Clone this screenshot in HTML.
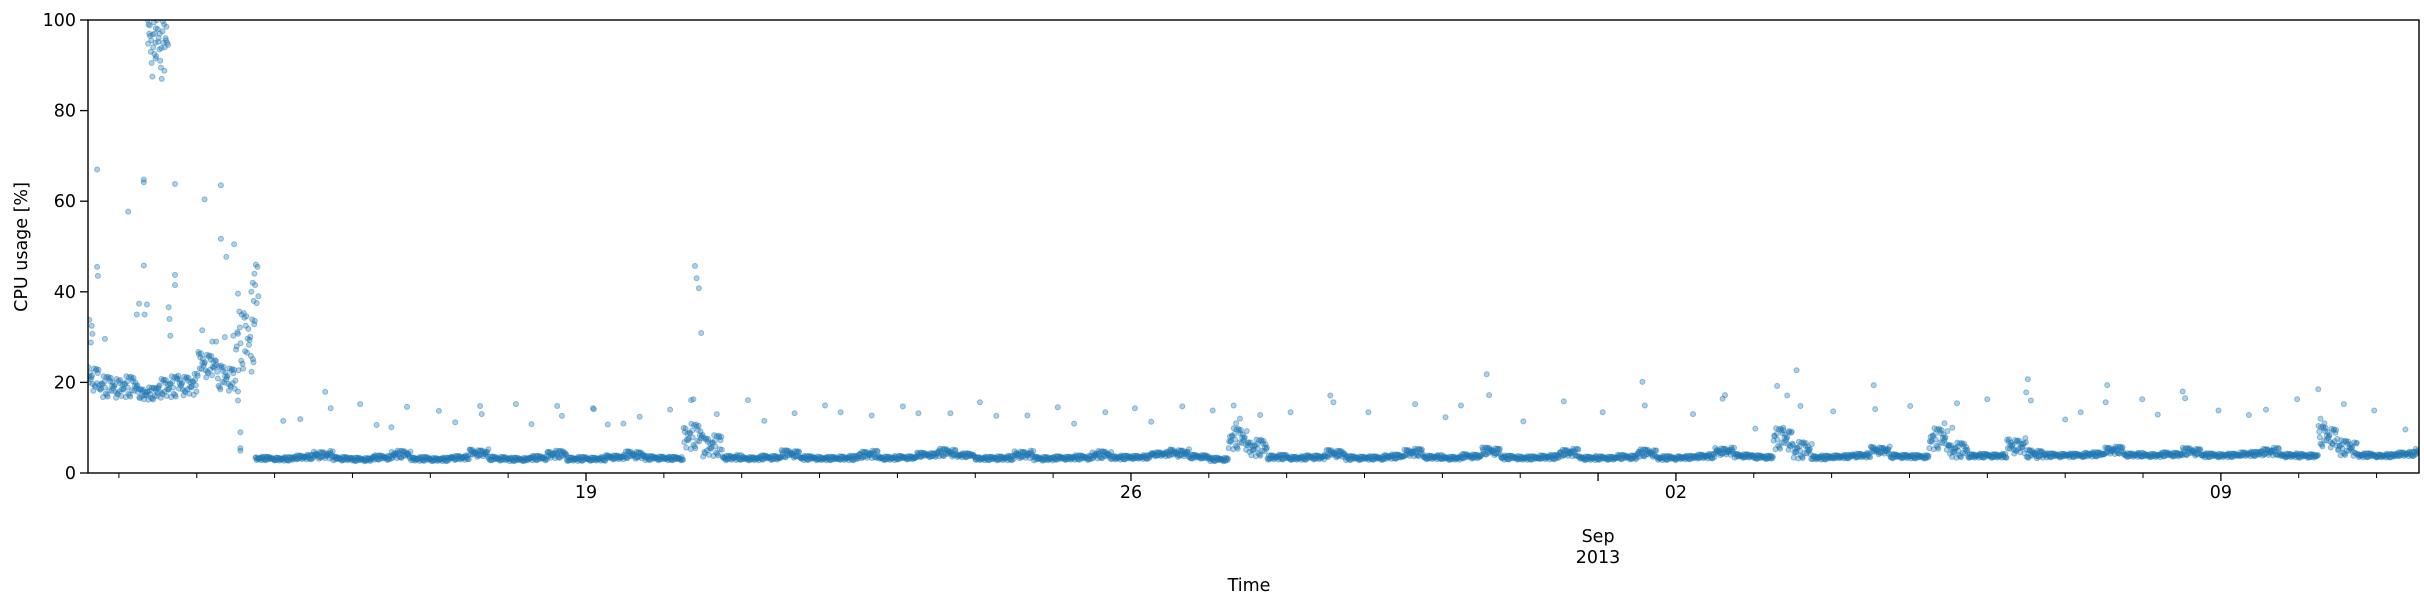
<!DOCTYPE html>
<html><head><meta charset="utf-8"><style>
html,body{margin:0;padding:0;background:#fff;}
svg{display:block;font-family:"DejaVu Sans","Liberation Sans",sans-serif;}
</style></head><body>
<svg id="chart" width="2424" height="606" viewBox="0 0 2424 606" xmlns="http://www.w3.org/2000/svg">
<defs><clipPath id="plotclip"><rect x="88" y="20" width="2331" height="453"/></clipPath></defs>
<rect x="0" y="0" width="2424" height="606" fill="#fff"/>
<g id="points" clip-path="url(#plotclip)"></g>
<g id="axes"></g>
<text x="22" y="247" font-size="17.5" text-anchor="middle" dominant-baseline="middle" transform="rotate(-90 22 247)">CPU usage [%]</text>
<text x="1249" y="591" font-size="17.5" text-anchor="middle">Time</text>
</svg>
<script>
// ---- data ----
const bandStart = 0.5;      // days from Aug 12 00:00
const bandStep = 0.25;      // days per sample
const bandLevel = [21,19,19,17.5,19,19.5,24,21,29,3.2,
3.1,3.5,4.0,3.2, 3.0,3.4,4.1,3.1, 3.0,3.4,4.4,3.2, 3.0,3.3,4.1,3.1,
3.1,3.5,4.0,3.3, 3.2,8.0,6.0,3.4, 3.2,3.4,4.2,3.3, 3.2,3.3,4.1,3.3,
3.4,4.0,4.5,3.9, 3.2,3.3,4.1,3.2, 3.3,3.4,4.0,3.4, 3.5,4.2,4.4,3.6,
3.0,7.5,5.5,3.5, 3.3,3.5,4.3,3.3, 3.3,3.6,4.5,3.5, 3.3,3.7,4.8,3.4,
3.3,3.5,4.5,3.3, 3.3,3.5,4.4,3.3, 3.4,3.7,4.8,3.8, 3.5,7.5,5.0,3.4,
3.6,3.9,5.0,3.7, 3.6,7.5,5.0,3.8, 3.8,6.0,4.2,3.9, 3.9,4.1,5.0,4.0,
3.9,4.1,4.7,3.9, 3.9,4.2,4.7,3.9, 3.8,8.0,5.5,3.9, 3.8,4.2,4.6];
const bandSpread = [3,2.5,2.5,1.5,2.5,2.5,3,3,7,0.45,
0.45,0.55,0.9,0.5, 0.45,0.55,0.9,0.5, 0.45,0.55,0.9,0.5, 0.45,0.55,0.9,0.5,
0.45,0.55,0.9,0.5, 0.45,3,2.5,0.6, 0.45,0.55,0.9,0.5, 0.45,0.55,0.9,0.5,
0.45,0.55,0.9,0.5, 0.45,0.55,0.9,0.5, 0.45,0.55,0.9,0.5, 0.45,0.55,0.9,0.5,
0.45,2.5,2,0.6, 0.45,0.55,0.9,0.5, 0.45,0.55,0.9,0.5, 0.45,0.55,0.9,0.5,
0.45,0.55,0.9,0.5, 0.45,0.55,0.9,0.5, 0.45,0.55,0.9,0.5, 0.45,2.5,2,0.5,
0.45,0.55,0.9,0.5, 0.45,2.5,1.8,0.5, 0.5,1.8,1,0.5, 0.45,0.55,0.9,0.5,
0.45,0.55,0.9,0.5, 0.45,0.55,0.9,0.5, 0.5,2.5,1.8,0.5, 0.45,0.55,0.9];
const outT = [1.37,1.38,1.39,1.40,1.41,1.42,1.43,1.44,1.45,1.46,1.47,1.48,1.49,1.50,1.51,1.52,1.53,1.54,1.55,1.56,1.57,1.58,1.59,1.60,1.61,1.62,1.63,1.395,1.415,1.435,1.455,1.475,1.505,1.525,1.545,1.565,1.585,1.605,1.375,1.47,
0.72,0.72,0.73,1.12,1.32,1.32,1.32,1.36,1.33,1.72,1.72,1.72,1.64,2.1,2.31,2.31,2.38,2.48,0.62,0.65,0.66,0.64,0.82,1.23,1.26,1.65,1.66,2.07,2.2,2.25,2.36,2.47,2.53,2.53,2.53,2.56,2.56,2.56,2.7,2.72,2.74,2.76,2.78,2.75,2.73,2.77,2.79,
3.11,3.33,3.65,3.72,4.1,4.31,4.5,4.7,5.11,5.32,5.64,5.66,6.1,6.3,6.63,7.1,
6.69,7.09,7.28,7.48,7.69,8.08,8.35,8.38,8.68,9.08,9.29,9.68,10.07,10.27,10.67,11.07,11.27,11.68,12.06,12.27,12.67,13.06,13.27,13.67,14.05,14.26,14.66,15.05,15.32,
15.66,16.05,16.56,16.6,17.05,17.65,18.04,18.24,18.57,18.6,19.04,19.56,20.06,20.57,20.6,21.22,21.63,21.6,22.02,22.3,22.55,22.43,22.6,23.02,23.54,23.56,24.01,
24.61,25.0,25.52,25.5,25.56,26.0,26.2,26.54,26.52,26.99,27.19,27.51,27.54,27.97,28.36,28.58,28.98,29.25,29.58,29.97,30.37,
8.4,8.42,8.45,8.48,15.35,15.4,22.38,22.45,24.45,24.55,29.28,29.33];
const outV = [100,99,97,96.5,93,90.5,87.5,94,99.5,97,95,92,100,98,96,93.5,91,89.5,87,97.5,95,99,94,96,98.5,95,94.5,98.8,95.5,96.8,92.5,98.2,95.2,97,93.8,99.7,88.8,95.5,94.8,91.5,
67,45.5,43.5,57.7,64.8,64.2,45.8,37.2,35,63.8,43.7,41.5,36.6,60.4,63.5,51.7,47.7,50.5,33.8,32.5,30.7,28.8,29.6,35,37.4,34,30.3,31.5,29,29,30,30.3,39.6,18,16,9,4.9,5.5,40,42,44,46,45.5,41.5,38,37.5,39,
11.5,11.9,17.9,14.3,15.2,10.6,10.1,14.6,13.7,11.2,14.8,13,15.2,10.8,14.8,14.1,
12.6,14.3,10.7,10.9,12.4,14,16.1,16.3,13.0,16.1,11.5,13.2,14.9,13.4,12.7,14.7,13.2,13.2,15.6,12.6,12.7,14.5,10.9,13.4,14.3,11.3,14.7,13.8,14.9,
12.8,13.4,17.1,15.6,13.4,15.2,12.3,14.9,21.8,17.2,11.4,15.8,13.4,20.1,14.9,13.0,17.2,16.4,9.8,19.2,22.7,17.1,14.8,13.6,19.4,14.1,14.8,
15.4,16.3,20.7,17.8,16.0,11.8,13.4,19.4,15.6,16.3,12.9,18.0,16.5,13.8,12.8,14.0,16.3,18.5,15.2,13.8,9.6,
45.7,43,40.8,30.9,11,12,10,9,11,10,12,11];
const yTicks = [0,20,40,60,80,100];
const xMajorT = [7,14,21,28];
const xMajorLabels = ["19","26","02","09"];
const monthT = 20;
const monthLabel = ["Sep","2013"];

// ---- scales ----
const X0=88, X1=2419, Y0=473, Y1=20, T0=0.603, T1=30.545;
function xs(t){return X0+(t-T0)/(T1-T0)*(X1-X0);}
function ys(v){return Y0-(v/100)*(Y0-Y1);}
const NS="http://www.w3.org/2000/svg";
const pts=document.getElementById('points');
const ax=document.getElementById('axes');
const jit=[-0.9,0.2,-0.4,0.7,-0.1,0.5,-0.7,0.95,-0.25,0.35,-0.55,0.05,0.8,-0.85,0.45,-0.15,0.6,-0.65,0.15,-0.35,0.9,-0.05,0.3,-0.8,0.55,-0.45,0.1,0.75,-0.6,0.25,-0.2,0.65,-0.95,0.4,-0.3,0.85];
function dot(t,v,name){
  const c=document.createElementNS(NS,'circle');
  c.setAttribute('cx',xs(t).toFixed(1));
  c.setAttribute('cy',ys(v).toFixed(1));
  c.setAttribute('r','2.5');
  c.setAttribute('fill','#1f77b4');
  c.setAttribute('fill-opacity','0.35');
  c.setAttribute('stroke','#1f77b4');
  c.setAttribute('stroke-opacity','0.45');
  c.setAttribute('stroke-width','1');
  
  
  pts.appendChild(c);
}
const N=30;
for(let i=0;i<bandLevel.length;i++){
  const t0=bandStart+i*bandStep;
  for(let k=0;k<N;k++){
    const t=t0+(k+0.5)/N*bandStep;
    if(t<T0||t>T1) continue;
    dot(t, bandLevel[i]+bandSpread[i]*jit[(k*7+i)%jit.length], 'cpu-point');
  }
}
for(let i=0;i<outT.length;i++){ dot(outT[i],outV[i],'cpu-outlier-point'); }

function line(x1,y1,x2,y2,w,name){
  const l=document.createElementNS(NS,'line');
  l.setAttribute('x1',x1);l.setAttribute('y1',y1);l.setAttribute('x2',x2);l.setAttribute('y2',y2);
  l.setAttribute('stroke','#000');l.setAttribute('stroke-width',w);
  
  
  ax.appendChild(l);
}
function text(x,y,s,anchor,name){
  const e=document.createElementNS(NS,'text');
  e.setAttribute('x',x);e.setAttribute('y',y);e.setAttribute('font-size','17.5');
  e.setAttribute('text-anchor',anchor);e.setAttribute('dominant-baseline','middle');
  e.textContent=s;
  
  
  ax.appendChild(e);
}
const fr=document.createElementNS(NS,'rect');
fr.setAttribute('x',X0);fr.setAttribute('y',Y1);fr.setAttribute('width',X1-X0);fr.setAttribute('height',Y0-Y1);
fr.setAttribute('fill','none');fr.setAttribute('stroke','#000');fr.setAttribute('stroke-width','1.4');


ax.appendChild(fr);
yTicks.forEach(v=>{ const y=ys(v); line(X0-8,y,X0,y,1.3,'y-tick'); text(X0-12,y+1,String(v),'end','y-tick-label'); });
for(let d=Math.ceil(T0); d<=T1; d++){
  if(xMajorT.indexOf(d)>=0||d===monthT) continue;
  const x=xs(d); line(x,Y0,x,Y0+5,1,'x-minor-tick');
}
xMajorT.forEach((t,i)=>{ const x=xs(t); line(x,Y0,x,Y0+8,1.3,'x-major-tick'); text(x,493,xMajorLabels[i],'middle','x-tick-label'); });
{ const x=xs(monthT); line(x,Y0,x,Y0+8,1.3,'x-month-tick'); text(x,537,monthLabel[0],'middle','x-month-label'); text(x,558,monthLabel[1],'middle','x-year-label'); }
</script>
</body></html>
